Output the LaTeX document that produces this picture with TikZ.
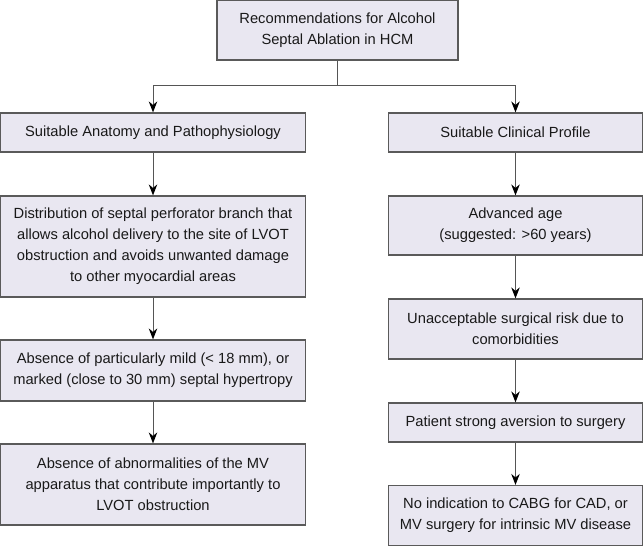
\documentclass[tikz,border=0pt]{standalone}
\usepackage{fontspec}
\setmainfont{Liberation Sans}
\usetikzlibrary{arrows.meta}
\definecolor{boxfill}{RGB}{233,231,241}
\definecolor{boxline}{RGB}{90,90,90}
\definecolor{linkline}{RGB}{85,85,85}
\tikzset{
  stepbox/.style={draw=boxline, line width=1.2pt, fill=boxfill, inner sep=0pt,
    align=center, text=black!90, font=\fontsize{14.7}{21}\selectfont},
  link/.style={draw=linkline, line width=1pt, -{Stealth[length=11pt,width=8.5pt,black]}}
}
\begin{document}
\begin{tikzpicture}[x=1pt,y=-1pt]
      \useasboundingbox (0,0) rectangle (643,546);
      \node[stepbox, minimum width=241pt, minimum height=60pt] (top) at (337.5,30)
        {Recommendations for Alcohol\\Septal Ablation in HCM};
      \node[stepbox, minimum width=305pt, minimum height=39pt] (anat) at (153,132.5)
        {Suitable Anatomy and Pathophysiology};
      \node[stepbox, minimum width=254pt, minimum height=39pt] (clin) at (515.5,132.5)
        {Suitable Clinical Profile};
      \node[stepbox, minimum width=305pt, minimum height=101pt] (perf) at (153,246.5)
        {Distribution of septal perforator branch that\\allows alcohol delivery to the site of LVOT\\obstruction and avoids unwanted damage\\to other myocardial areas};
      \node[stepbox, minimum width=305pt, minimum height=61pt] (hyper) at (153,370.5)
        {Absence of particularly mild (< 18 mm), or\\marked (close to 30 mm) septal hypertropy};
      \node[stepbox, minimum width=305pt, minimum height=81pt] (mv) at (153,484.5)
        {Absence of abnormalities of the MV\\apparatus that contribute importantly to\\LVOT obstruction};
      \node[stepbox, minimum width=254pt, minimum height=59pt] (age) at (515.5,225.5)
        {Advanced age\\(suggested: >60 years)};
      \node[stepbox, minimum width=254pt, minimum height=60pt] (risk) at (515.5,329)
        {Unacceptable surgical risk due to\\comorbidities};
      \node[stepbox, minimum width=254pt, minimum height=39pt] (aver) at (515.5,422.5)
        {Patient strong aversion to surgery};
      \node[stepbox, minimum width=254pt, minimum height=60pt] (cabg) at (515.5,515.5)
        {No indication to CABG for CAD, or\\MV surgery for intrinsic MV disease};
      \coordinate (split) at (337.5,85);
      \draw[linkline, line width=1pt] (top) -- (split);
      \begin{scope}[link]
        \draw (split) -| (anat);
        \draw (split) -| (clin);
        \draw (anat) -- (perf);
        \draw (perf) -- (hyper);
        \draw (hyper) -- (mv);
        \draw (clin) -- (age);
        \draw (age) -- (risk);
        \draw (risk) -- (aver);
        \draw (aver) -- (cabg);
      \end{scope}
    \end{tikzpicture}
\end{document}
